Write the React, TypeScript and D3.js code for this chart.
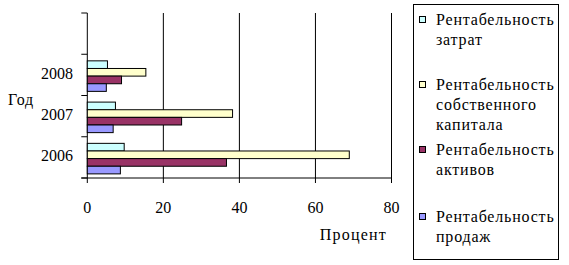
import React from "react";
import * as d3 from "d3";

const years = ["2006", "2007", "2008", ""];
const seriesNames = [
  ["Рентабельность", "затрат"],
  ["Рентабельность", "собственного", "капитала"],
  ["Рентабельность", "активов"],
  ["Рентабельность", "продаж"],
];
const zatrat = [9.7, 7.4, 5.3];
const capital = [68.9, 38.2, 15.4];
const aktivov = [36.6, 24.8, 9.0];
const prodazh = [8.7, 6.8, 5.0];
const colors = ["#CCFFFF", "#FFFFCC", "#993366", "#9999FF"];
const xTicks = [0, 20, 40, 60, 80];

const TS: React.CSSProperties = { fontFamily: "Liberation Serif", fontSize: 16 };
const TSL: React.CSSProperties = { ...TS, letterSpacing: 0.8 };

export default function App() {
  const left = 87.3, right = 391.5, top = 13, bottom = 178;
  const x = d3.scaleLinear().domain([0, 80]).range([left, right]);
  const yBand = d3.scaleBand().domain(years).range([bottom, top]);
  const series = [zatrat, capital, aktivov, prodazh];
  const bw = yBand.bandwidth();
  const inner = d3.scaleBand().domain(["0", "1", "2", "3"]).range([bw * 0.16, bw * 0.9]);
  const legendY = [20, 85, 150, 217];

  return (
    <svg width={569} height={265} style={{ position: "absolute", left: 0, top: 0, background: "#fff" }}>
      {xTicks.map((t) => (
        <line key={"g" + t} x1={x(t)} x2={x(t)} y1={top} y2={bottom + 5} stroke="#000" strokeWidth={1} />
      ))}
      {[0, 1, 2, 3, 4].map((i) => {
        const yy = bottom - i * bw;
        return <line key={"yt" + i} x1={left - 6} x2={left} y1={yy} y2={yy} stroke="#000" />;
      })}
      <line x1={left - 6} x2={right} y1={bottom} y2={bottom} stroke="#000" />
      {years.slice(0, 3).map((yr, i) =>
        series.map((s, j) => (
          <rect
            key={yr + j}
            x={x(0)}
            y={(yBand(yr) as number) + (inner(String(j)) as number)}
            width={x(s[i]) - x(0)}
            height={inner.bandwidth()}
            fill={colors[j]}
            stroke="#000"
            strokeWidth={1}
          />
        ))
      )}
      {years.slice(0, 3).map((yr) => (
        <text key={"l" + yr} x={73} y={(yBand(yr) as number) + bw / 2 + 4} textAnchor="end" style={TS}>
          {yr}
        </text>
      ))}
      <text x={8} y={105} style={TSL}>Год</text>
      {xTicks.map((t) => (
        <text key={"xl" + t} x={x(t)} y={213} textAnchor="middle" style={TS}>
          {t}
        </text>
      ))}
      <text x={387} y={240} textAnchor="end" style={{ ...TS, letterSpacing: 1.2 }}>Процент</text>
      <rect x={413.5} y={4.5} width={145} height={255} fill="none" stroke="#000" />
      {seriesNames.map((lines, j) => (
        <g key={"lg" + j}>
          <rect x={419.5} y={legendY[j] - 3.5} width={6} height={6} fill={colors[j]} stroke="#000" />
          {lines.map((ln, k) => (
            <text key={k} x={436} y={legendY[j] + 5 + k * 20} style={TSL}>
              {ln}
            </text>
          ))}
        </g>
      ))}
    </svg>
  );
}
